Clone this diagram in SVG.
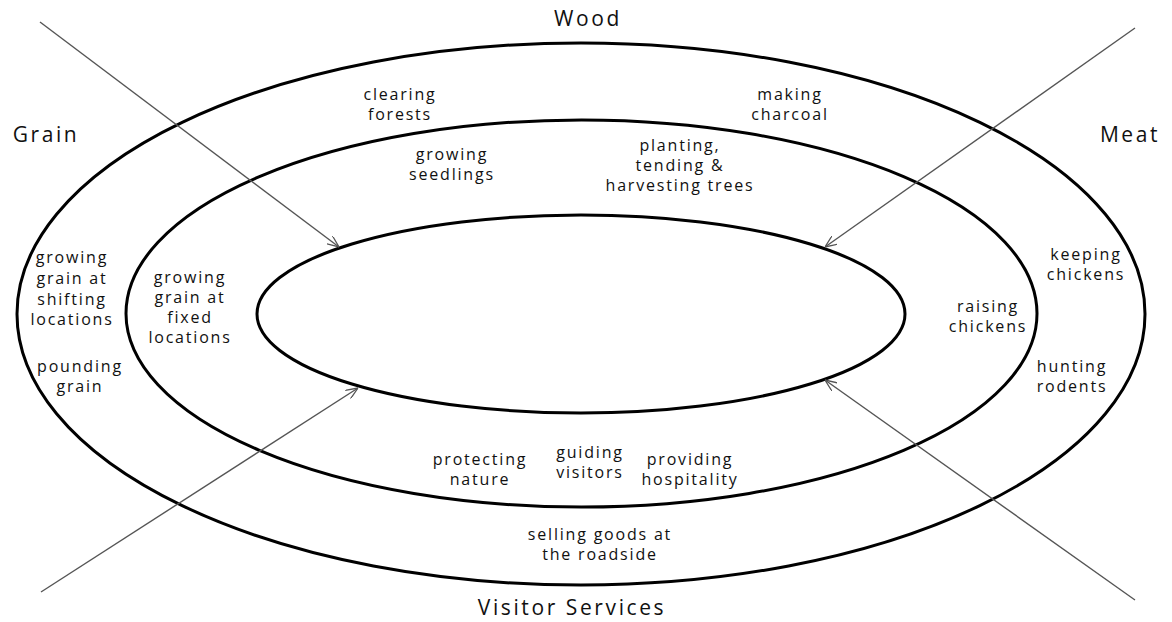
<svg xmlns="http://www.w3.org/2000/svg" width="1172" height="622" viewBox="0 0 1172 622">
<style>
.ring{fill:none;stroke:#000;stroke-width:3}
.conn{stroke:#555;stroke-width:1.4;fill:none}
.t{font-family:"Open Sans","Liberation Sans",sans-serif;font-size:16px;fill:#111;text-anchor:middle;letter-spacing:1.8px}
.h{font-family:"Open Sans","Liberation Sans",sans-serif;font-size:21px;fill:#111;text-anchor:middle;letter-spacing:2.6px}
</style>
<defs>
<marker id="arr" viewBox="0 0 12 10" refX="12" refY="5" markerWidth="12" markerHeight="10" markerUnits="userSpaceOnUse" orient="auto">
<path d="M0,0 L12,5 L0,10" fill="none" stroke="#555" stroke-width="1.3"/>
</marker>
</defs>
<rect width="1172" height="622" fill="#fff"/>
<g id="rings">
<ellipse id="outer" class="ring" cx="581" cy="314" rx="564" ry="271"/>
<ellipse id="middle" class="ring" cx="581.5" cy="313.5" rx="455.5" ry="193.5"/>
<ellipse id="inner" class="ring" cx="581" cy="314" rx="324" ry="99"/>
</g>
<g id="connectors">
<line class="conn" x1="40" y1="22" x2="339" y2="247" marker-end="url(#arr)"/>
<line class="conn" x1="1135" y1="28" x2="825" y2="247" marker-end="url(#arr)"/>
<line class="conn" x1="41" y1="592" x2="358" y2="388" marker-end="url(#arr)"/>
<line class="conn" x1="1135" y1="600" x2="825" y2="380" marker-end="url(#arr)"/>
</g>
<g id="wood"><text class="h" x="588" y="26">Wood</text></g>
<g id="grain"><text class="h" x="46" y="142">Grain</text></g>
<g id="meat"><text class="h" x="1130" y="142">Meat</text></g>
<g id="visitor-services"><text class="h" x="572" y="615">Visitor Services</text></g>
<g id="clearing-forests"><text class="t" x="400"><tspan x="400" y="100">clearing</tspan><tspan x="400" y="120">forests</tspan></text></g>
<g id="making-charcoal"><text class="t" x="790"><tspan x="790" y="100">making</tspan><tspan x="790" y="120">charcoal</tspan></text></g>
<g id="growing-seedlings"><text class="t" x="452"><tspan x="452" y="160">growing</tspan><tspan x="452" y="180">seedlings</tspan></text></g>
<g id="planting"><text class="t" x="680"><tspan x="680" y="151">planting,</tspan><tspan x="680" y="171">tending &amp;</tspan><tspan x="680" y="191">harvesting trees</tspan></text></g>
<g id="shifting"><text class="t" x="72"><tspan x="72" y="263">growing</tspan><tspan x="72" y="284">grain at</tspan><tspan x="72" y="305">shifting</tspan><tspan x="72" y="325">locations</tspan></text></g>
<g id="pounding"><text class="t" x="80"><tspan x="80" y="372">pounding</tspan><tspan x="80" y="392">grain</tspan></text></g>
<g id="fixed"><text class="t" x="190"><tspan x="190" y="283">growing</tspan><tspan x="190" y="303">grain at</tspan><tspan x="190" y="323">fixed</tspan><tspan x="190" y="343">locations</tspan></text></g>
<g id="keeping-chickens"><text class="t" x="1086"><tspan x="1086" y="260">keeping</tspan><tspan x="1086" y="280">chickens</tspan></text></g>
<g id="raising-chickens"><text class="t" x="988"><tspan x="988" y="312">raising</tspan><tspan x="988" y="332">chickens</tspan></text></g>
<g id="hunting-rodents"><text class="t" x="1072"><tspan x="1072" y="372">hunting</tspan><tspan x="1072" y="392">rodents</tspan></text></g>
<g id="protecting-nature"><text class="t" x="480"><tspan x="480" y="465">protecting</tspan><tspan x="480" y="485">nature</tspan></text></g>
<g id="guiding-visitors"><text class="t" x="590"><tspan x="590" y="458">guiding</tspan><tspan x="590" y="478">visitors</tspan></text></g>
<g id="providing-hospitality"><text class="t" x="690"><tspan x="690" y="465">providing</tspan><tspan x="690" y="485">hospitality</tspan></text></g>
<g id="selling-goods"><text class="t" x="600"><tspan x="600" y="540">selling goods at</tspan><tspan x="600" y="560">the roadside</tspan></text></g>
</svg>
